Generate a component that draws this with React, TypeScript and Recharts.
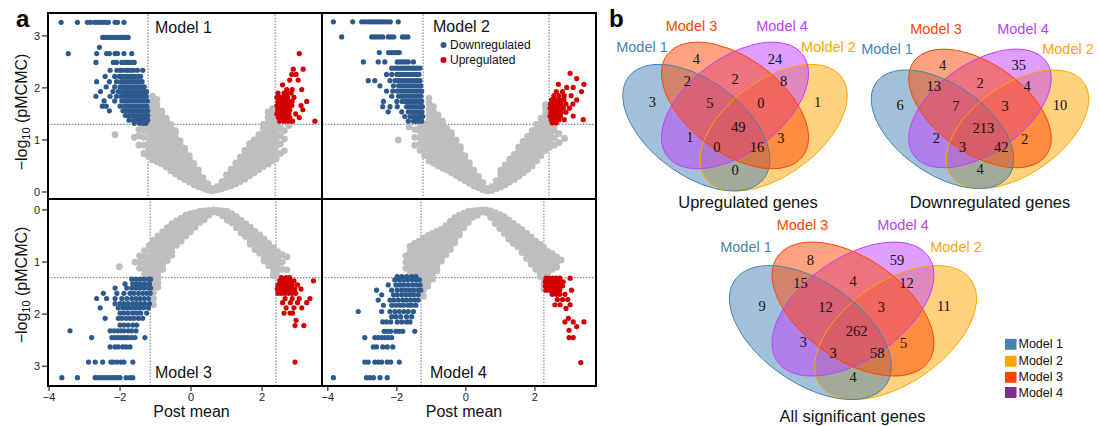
import React from 'react';
import { ScatterChart, Scatter, XAxis, YAxis, ReferenceLine } from 'recharts';

type Col = [number, number[]]; // [post mean, list of -log10 p]
type Row = [number, number[]]; // [-log10 p, list of post mean]

// ---------------- volcano data ----------------
const xTicks = [-4, -2, 0, 2];
const yTicks = [0, 1, 2, 3];
const pCut = 1.3;
const cut1 = [-1.21, 2.37];
const cut2 = [-1.24, 2.41];
const cut3 = [-1.15, 2.39];
const cut4 = [-1.3, 2.26];

const m1Gray: Col[] = [
  [0.6, [0.02, 0.07]], [0.47, [0.04, 0.1, 0.16]], [0.34, [0.07, 0.14, 0.21, 0.27]],
  [0.21, [0.1, 0.18, 0.26, 0.34, 0.42]], [0.08, [0.14, 0.22, 0.3, 0.38, 0.46, 0.55]],
  [-0.05, [0.19, 0.28, 0.37, 0.46, 0.55, 0.63, 0.7]], [-0.18, [0.24, 0.33, 0.42, 0.51, 0.6, 0.69, 0.77, 0.84]],
  [-0.31, [0.29, 0.38, 0.47, 0.56, 0.65, 0.74, 0.83, 0.91, 0.98]],
  [-0.44, [0.35, 0.45, 0.55, 0.65, 0.75, 0.85, 0.95, 1.05, 1.13, 1.18]],
  [-0.57, [0.41, 0.51, 0.61, 0.71, 0.81, 0.91, 1.01, 1.11, 1.21, 1.3]],
  [-0.7, [0.48, 0.58, 0.68, 0.78, 0.88, 0.98, 1.08, 1.18, 1.28, 1.36, 1.42]],
  [-0.83, [0.54, 0.64, 0.74, 0.84, 0.94, 1.04, 1.14, 1.24, 1.34, 1.44, 1.52, 1.56]],
  [-0.96, [0.58, 0.68, 0.78, 0.88, 0.98, 1.08, 1.18, 1.28, 1.38, 1.48, 1.58, 1.68, 1.78]],
  [-1.09, [0.62, 0.72, 0.82, 0.92, 1.02, 1.12, 1.22, 1.32, 1.42, 1.52, 1.62, 1.72, 1.84]],
  [-1.2, [0.68, 0.8, 0.92, 1.04, 1.16, 1.28]], [-1.33, [0.74, 0.9, 1.05, 1.18, 1.26]],
  [-1.47, [0.9, 1.08, 1.2]], [-1.6, [1.05]], [-2.14, [1.1]],
  [0.74, [0.04, 0.1]], [0.87, [0.06, 0.13, 0.2]], [1.0, [0.09, 0.17, 0.25, 0.33]],
  [1.13, [0.12, 0.2, 0.28, 0.36, 0.44]], [1.26, [0.16, 0.24, 0.32, 0.4, 0.48, 0.56]],
  [1.39, [0.2, 0.28, 0.36, 0.44, 0.52, 0.6, 0.67]], [1.52, [0.25, 0.33, 0.41, 0.49, 0.57, 0.65, 0.73, 0.8]],
  [1.65, [0.31, 0.39, 0.47, 0.55, 0.63, 0.71, 0.79, 0.87, 0.93]],
  [1.78, [0.37, 0.45, 0.53, 0.61, 0.69, 0.77, 0.85, 0.93, 1.0]],
  [1.91, [0.43, 0.52, 0.61, 0.7, 0.79, 0.88, 0.97, 1.05, 1.1]],
  [2.04, [0.49, 0.58, 0.67, 0.76, 0.85, 0.94, 1.03, 1.12, 1.22, 1.3]],
  [2.17, [0.54, 0.64, 0.74, 0.84, 0.94, 1.04, 1.14, 1.24, 1.34, 1.44, 1.54]],
  [2.3, [0.6, 0.7, 0.8, 0.9, 1.0, 1.1, 1.2, 1.3, 1.4, 1.5, 1.6]],
  [2.4, [0.64, 0.76, 0.88, 1.0, 1.12, 1.24, 1.32]], [2.52, [0.74, 0.92, 1.08, 1.22]],
  [2.63, [0.79, 1.02, 1.18]], [2.76, [1.28]],
];
const m1Down: Row[] = [
  [3.26, [-3.66, -3.2, -2.92, -2.83, -2.72, -2.64, -2.56, -2.47, -2.39, -2.33, -2.14, -2.07, -1.89]],
  [2.97, [-2.49, -2.42, -2.35, -2.28, -2.2, -2.12, -2.05, -1.98, -1.91, -1.84, -1.77]],
  [2.78, [-2.58]],
  [2.66, [-3.46, -2.66, -2.38, -2.3, -2.14, -2.07, -1.89, -1.67]],
  [2.49, [-2.68, -2.19, -2.1, -1.95, -1.88, -1.81, -1.74, -1.66, -1.6]],
  [2.34, [-2.28, -2.09, -2.0, -1.95, -1.85, -1.78, -1.7, -1.62, -1.51, -1.36]],
  [2.22, [-2.42, -2.15, -2.02, -1.95, -1.87, -1.8, -1.72, -1.65, -1.58, -1.5, -1.42]],
  [2.12, [-2.66, -2.3, -2.1, -1.98, -1.9, -1.82, -1.75, -1.68, -1.6, -1.52, -1.45, -1.38]],
  [2.02, [-2.39, -2.15, -2.0, -1.92, -1.85, -1.78, -1.7, -1.62, -1.55, -1.48, -1.4, -1.32]],
  [1.93, [-2.55, -2.2, -2.05, -1.95, -1.87, -1.8, -1.72, -1.64, -1.56, -1.48, -1.4, -1.32, -1.25]],
  [1.84, [-2.68, -2.28, -2.1, -1.98, -1.9, -1.82, -1.74, -1.66, -1.58, -1.5, -1.42, -1.34, -1.26]],
  [1.75, [-2.45, -2.15, -1.95, -1.86, -1.78, -1.7, -1.62, -1.54, -1.46, -1.38, -1.3, -1.23]],
  [1.65, [-2.5, -2.39, -2.0, -1.88, -1.8, -1.72, -1.64, -1.56, -1.48, -1.4, -1.32, -1.24]],
  [1.56, [-2.3, -1.92, -1.84, -1.76, -1.68, -1.6, -1.52, -1.44, -1.36, -1.28, -1.22]],
  [1.47, [-1.85, -1.76, -1.68, -1.6, -1.52, -1.44, -1.36, -1.28, -1.22]],
  [1.38, [-1.75, -1.62, -1.52, -1.44, -1.36, -1.28, -1.22]],
  [1.32, [-1.6, -1.45, -1.35, -1.27]],
];
const m1Up: Row[] = [
  [2.66, [3.05]], [2.36, [2.88, 3.16]], [2.26, [2.84, 2.96]], [2.15, [2.78, 3.02]], [2.06, [2.58]],
  [1.97, [2.7, 2.85, 3.12]], [1.9, [2.45, 2.62, 2.72, 2.82]], [1.82, [2.42, 2.52, 2.62, 2.72, 2.9]],
  [1.74, [2.45, 2.55, 2.65, 2.75, 2.85, 3.26]], [1.66, [2.42, 2.5, 2.58, 2.66, 2.74, 2.84, 3.1]],
  [1.58, [2.44, 2.52, 2.6, 2.68, 2.78, 3.15]], [1.5, [2.42, 2.5, 2.58, 2.66, 2.76, 2.95]],
  [1.43, [2.46, 2.56, 2.66, 2.78, 3.05]], [1.36, [2.5, 2.62, 2.74, 2.86, 3.49]],
];

const m2Gray: Col[] = [
  [0.62, [0.02, 0.07]], [0.49, [0.04, 0.11, 0.18]], [0.36, [0.08, 0.16, 0.24, 0.3]],
  [0.23, [0.12, 0.2, 0.28, 0.36, 0.42]], [0.1, [0.17, 0.25, 0.33, 0.41, 0.49, 0.56]],
  [-0.03, [0.22, 0.3, 0.38, 0.46, 0.54, 0.62, 0.7]], [-0.16, [0.27, 0.35, 0.43, 0.51, 0.59, 0.67, 0.75, 0.83, 0.87]],
  [-0.29, [0.32, 0.41, 0.5, 0.59, 0.68, 0.77, 0.86, 0.95, 1.0]],
  [-0.42, [0.37, 0.46, 0.55, 0.64, 0.73, 0.82, 0.91, 1.0, 1.09, 1.14]],
  [-0.55, [0.42, 0.51, 0.6, 0.69, 0.78, 0.87, 0.96, 1.05, 1.14, 1.22]],
  [-0.68, [0.46, 0.56, 0.66, 0.76, 0.86, 0.96, 1.06, 1.16, 1.26, 1.36]],
  [-0.81, [0.5, 0.6, 0.7, 0.8, 0.9, 1.0, 1.1, 1.2, 1.3, 1.4, 1.48]],
  [-0.94, [0.55, 0.65, 0.75, 0.85, 0.95, 1.05, 1.15, 1.25, 1.35, 1.45, 1.55, 1.64]],
  [-1.07, [0.6, 0.71, 0.82, 0.93, 1.04, 1.15, 1.26, 1.37, 1.48, 1.59, 1.7, 1.8]],
  [-1.2, [0.7, 0.82, 0.94, 1.06, 1.18, 1.3]], [-1.33, [0.8, 0.92, 1.04, 1.16, 1.26]],
  [-1.48, [0.9, 1.05, 1.2]], [-1.65, [1.25]], [-1.96, [1.0]],
  [0.75, [0.03, 0.1]], [0.88, [0.06, 0.14, 0.22]], [1.01, [0.1, 0.18, 0.26, 0.34, 0.42]],
  [1.14, [0.14, 0.22, 0.3, 0.38, 0.46, 0.52]], [1.27, [0.19, 0.27, 0.35, 0.43, 0.51, 0.59, 0.63]],
  [1.4, [0.24, 0.32, 0.4, 0.48, 0.56, 0.64, 0.72]], [1.53, [0.3, 0.38, 0.46, 0.54, 0.62, 0.7, 0.78, 0.86]],
  [1.66, [0.37, 0.45, 0.53, 0.61, 0.69, 0.77, 0.85, 0.93, 0.97]],
  [1.79, [0.43, 0.51, 0.59, 0.67, 0.75, 0.83, 0.91, 0.99, 1.07]],
  [1.92, [0.5, 0.59, 0.68, 0.77, 0.86, 0.95, 1.04, 1.13, 1.18]],
  [2.05, [0.6, 0.69, 0.78, 0.87, 0.96, 1.05, 1.14, 1.23, 1.3]],
  [2.18, [0.7, 0.79, 0.88, 0.97, 1.06, 1.15, 1.24, 1.33, 1.42]],
  [2.31, [0.8, 0.89, 0.98, 1.07, 1.16, 1.25, 1.34, 1.43, 1.52, 1.62, 1.68]],
  [2.43, [0.86, 0.98, 1.1, 1.22, 1.32]], [2.56, [0.9, 1.04, 1.18, 1.28]], [2.7, [0.95, 1.12]], [2.86, [1.03]],
];
const m2Down: Row[] = [
  [3.27, [-3.84, -3.28, -3.02, -2.93, -2.83, -2.75, -2.67, -2.59, -2.51, -2.43, -2.35, -2.27, -2.19, -1.96]],
  [2.98, [-3.6, -2.73, -2.65, -2.57, -2.49, -2.41, -2.25, -2.17, -2.09, -1.84, -1.76, -1.68]],
  [2.68, [-2.51, -2.24, -2.16, -2.08, -2.0, -1.93]],
  [2.5, [-2.97, -2.54, -2.35, -1.99, -1.91, -1.83, -1.75, -1.67, -1.52]],
  [2.38, [-2.15, -2.06, -1.98, -1.9, -1.82, -1.74, -1.66, -1.58, -1.5, -1.42, -1.33]],
  [2.26, [-2.3, -2.15, -2.0, -1.92, -1.84, -1.76, -1.68, -1.6, -1.52, -1.44, -1.36]],
  [2.14, [-2.83, -2.64, -2.2, -2.05, -1.97, -1.89, -1.81, -1.73, -1.65, -1.57, -1.49, -1.41, -1.33]],
  [2.04, [-2.49, -2.1, -1.95, -1.87, -1.79, -1.71, -1.63, -1.55, -1.47, -1.39, -1.31]],
  [1.94, [-2.3, -2.12, -1.99, -1.9, -1.82, -1.74, -1.66, -1.58, -1.5, -1.42, -1.34, -1.28]],
  [1.84, [-2.15, -1.95, -1.86, -1.78, -1.7, -1.62, -1.54, -1.46, -1.38, -1.3]],
  [1.74, [-2.39, -2.0, -1.85, -1.76, -1.68, -1.6, -1.52, -1.44, -1.36, -1.28]],
  [1.64, [-2.41, -2.2, -1.99, -1.72, -1.64, -1.56, -1.48, -1.4, -1.32, -1.26]],
  [1.54, [-2.25, -1.86, -1.67, -1.58, -1.5, -1.42, -1.34, -1.27]],
  [1.45, [-1.77, -1.62, -1.54, -1.46, -1.38, -1.3, -1.25]],
  [1.36, [-1.67, -1.52, -1.44, -1.36, -1.28]],
];
const m2Up: Row[] = [
  [2.28, [3.02]], [2.18, [3.21]], [2.07, [2.68, 3.42]], [2.01, [2.92, 3.11]], [1.93, [2.62, 2.8, 3.35]],
  [1.85, [2.55, 2.7, 2.85, 3.05]], [1.77, [2.48, 2.6, 2.72, 2.84, 3.21]],
  [1.69, [2.45, 2.56, 2.66, 2.76, 2.9, 3.1]], [1.61, [2.44, 2.52, 2.62, 2.72, 2.82, 3.0]],
  [1.53, [2.46, 2.56, 2.66, 2.76, 2.9]], [1.46, [2.44, 2.54, 2.64, 2.74, 3.11]],
  [1.39, [2.47, 2.58, 2.7, 2.85, 3.4]], [1.33, [2.5, 2.62]],
];

const m3Gray: Col[] = [
  [0.63, [0.0, 0.04]], [0.5, [0.01, 0.06, 0.1]], [0.37, [0.02, 0.08, 0.14, 0.19]],
  [0.24, [0.03, 0.1, 0.17, 0.24]], [0.11, [0.05, 0.12, 0.19, 0.26, 0.33]],
  [-0.02, [0.07, 0.14, 0.21, 0.28, 0.35, 0.42]], [-0.15, [0.1, 0.18, 0.26, 0.34, 0.42, 0.5]],
  [-0.28, [0.16, 0.24, 0.32, 0.4, 0.48, 0.56, 0.6]], [-0.41, [0.21, 0.29, 0.37, 0.45, 0.53, 0.61, 0.68]],
  [-0.54, [0.27, 0.36, 0.45, 0.54, 0.63, 0.72, 0.81, 0.87]],
  [-0.67, [0.34, 0.43, 0.52, 0.61, 0.7, 0.79, 0.88, 0.97]],
  [-0.8, [0.42, 0.51, 0.6, 0.69, 0.78, 0.87, 0.96, 1.05, 1.14]],
  [-0.93, [0.5, 0.6, 0.7, 0.8, 0.9, 1.0, 1.1, 1.2, 1.3, 1.4, 1.48]],
  [-1.06, [0.58, 0.68, 0.78, 0.88, 0.98, 1.08, 1.18, 1.28, 1.38, 1.48, 1.58, 1.7, 1.82]],
  [-1.18, [0.68, 0.8, 0.92, 1.04, 1.16, 1.26]], [-1.31, [0.78, 0.9, 1.02, 1.14, 1.24]],
  [-1.45, [0.88, 1.0, 1.12]], [-1.58, [1.0]], [-2.02, [1.09]],
  [0.76, [0.01, 0.05]], [0.89, [0.02, 0.07, 0.11]], [1.02, [0.03, 0.09, 0.15, 0.2]],
  [1.15, [0.07, 0.13, 0.19, 0.25]], [1.28, [0.13, 0.2, 0.27, 0.34]], [1.41, [0.2, 0.28, 0.36, 0.44]],
  [1.54, [0.27, 0.35, 0.43, 0.51]], [1.67, [0.33, 0.42, 0.51, 0.6, 0.66]],
  [1.8, [0.41, 0.5, 0.59, 0.68, 0.76]], [1.93, [0.48, 0.57, 0.66, 0.75, 0.83]],
  [2.06, [0.56, 0.65, 0.74, 0.83, 0.92, 0.98]], [2.19, [0.64, 0.73, 0.82, 0.91, 1.0, 1.07]],
  [2.32, [0.73, 0.82, 0.91, 1.0, 1.09, 1.18, 1.26]], [2.44, [0.8, 0.92, 1.04, 1.16, 1.28]],
  [2.57, [0.86, 1.0, 1.14]], [2.7, [0.9, 1.15]],
];
const m3Down: Row[] = [
  [3.22, [-3.64, -3.2, -2.7, -2.62, -2.54, -2.46, -2.38, -2.3, -2.22, -2.14, -2.06, -2.0, -1.83, -1.72, -1.64]],
  [2.92, [-2.89, -2.7, -2.49, -2.26, -2.19, -2.09, -1.98, -1.89, -1.64]],
  [2.63, [-2.28, -2.14, -2.05, -1.92, -1.83, -1.72]],
  [2.45, [-2.8, -2.23, -2.14, -2.05, -1.96, -1.87, -1.78, -1.68, -1.58, -1.3]],
  [2.32, [-3.41, -2.28, -2.17, -2.07, -1.98, -1.89, -1.77, -1.67, -1.55]],
  [2.21, [-2.0, -1.89, -1.77, -1.64, -1.53]],
  [2.08, [-2.42, -2.05, -1.95, -1.83, -1.72, -1.61, -1.48, -1.36]],
  [1.98, [-2.0, -1.89, -1.77, -1.64, -1.53, -1.42, -1.25]],
  [1.88, [-2.56, -2.05, -1.92, -1.81, -1.7, -1.58, -1.46, -1.34, -1.2]],
  [1.8, [-2.14, -2.0, -1.89, -1.77, -1.64, -1.53, -1.42, -1.3, -1.17]],
  [1.7, [-2.66, -2.38, -2.14, -1.95, -1.81, -1.67, -1.55, -1.44, -1.32, -1.2]],
  [1.6, [-2.47, -2.09, -1.89, -1.72, -1.61, -1.48, -1.36, -1.25, -1.15]],
  [1.5, [-2.14, -1.81, -1.67, -1.55, -1.44, -1.32, -1.2, -1.14]],
  [1.42, [-1.86, -1.64, -1.53, -1.42, -1.3, -1.17]],
  [1.33, [-1.67, -1.55, -1.44, -1.32, -1.2, -1.14]],
];
const m3Up: Row[] = [
  [2.92, [2.93]], [2.22, [2.93, 3.18]], [2.12, [2.96]], [1.98, [2.62, 2.79, 2.86]],
  [1.88, [2.68, 2.9, 3.12]], [1.78, [2.58, 2.8, 3.0, 3.26]], [1.7, [2.65, 2.85, 3.05, 3.35]],
  [1.6, [2.45, 2.55, 2.65, 2.75, 2.85, 2.95]], [1.52, [2.43, 2.52, 2.62, 2.72, 2.82, 2.92, 3.1]],
  [1.44, [2.45, 2.55, 2.65, 2.75, 2.85, 3.0]], [1.36, [2.5, 2.6, 2.7, 2.8, 2.9, 3.45]],
  [1.3, [2.55, 2.68, 2.78]],
];

const m4Gray: Col[] = [
  [0.46, [0.0, 0.04]], [0.33, [0.01, 0.06, 0.1]], [0.2, [0.02, 0.08, 0.14]],
  [0.07, [0.03, 0.1, 0.17, 0.24]], [-0.06, [0.06, 0.13, 0.2, 0.27, 0.34]],
  [-0.19, [0.1, 0.18, 0.26, 0.34, 0.42, 0.48]], [-0.32, [0.15, 0.23, 0.31, 0.39, 0.47, 0.55, 0.63]],
  [-0.45, [0.22, 0.3, 0.38, 0.46, 0.54, 0.62, 0.7, 0.76]],
  [-0.58, [0.3, 0.38, 0.46, 0.54, 0.62, 0.7, 0.78, 0.86]],
  [-0.71, [0.37, 0.46, 0.55, 0.64, 0.73, 0.82, 0.91, 0.98]],
  [-0.84, [0.41, 0.5, 0.59, 0.68, 0.77, 0.86, 0.95, 1.04, 1.13, 1.17]],
  [-0.97, [0.45, 0.54, 0.63, 0.72, 0.81, 0.9, 0.99, 1.08, 1.17, 1.26, 1.33]],
  [-1.1, [0.49, 0.59, 0.69, 0.79, 0.89, 0.99, 1.09, 1.19, 1.29, 1.39, 1.46]],
  [-1.23, [0.54, 0.64, 0.74, 0.84, 0.94, 1.04, 1.14, 1.24, 1.34, 1.44, 1.54, 1.66]],
  [-1.36, [0.6, 0.7, 0.8, 0.9, 1.0, 1.1, 1.2, 1.28]], [-1.49, [0.64, 0.74, 0.84, 0.94, 1.04, 1.14, 1.24]],
  [-1.62, [0.7, 0.8, 0.9, 1.0, 1.1, 1.22]], [-1.74, [0.88, 1.0, 1.12]],
  [0.59, [0.0, 0.05]], [0.72, [0.02, 0.08, 0.14]], [0.85, [0.05, 0.12, 0.19, 0.26]],
  [0.98, [0.09, 0.16, 0.23, 0.3, 0.36]], [1.11, [0.13, 0.21, 0.29, 0.37, 0.45]],
  [1.24, [0.19, 0.27, 0.35, 0.43, 0.51, 0.56]], [1.37, [0.26, 0.34, 0.42, 0.5, 0.58, 0.64]],
  [1.5, [0.32, 0.4, 0.48, 0.56, 0.64, 0.7]], [1.63, [0.38, 0.46, 0.54, 0.62, 0.7, 0.78, 0.82]],
  [1.76, [0.45, 0.53, 0.61, 0.69, 0.77, 0.85, 0.93]], [1.89, [0.52, 0.6, 0.68, 0.76, 0.84, 0.92, 1.0, 1.04]],
  [2.02, [0.6, 0.68, 0.76, 0.84, 0.92, 1.0, 1.08, 1.14]],
  [2.15, [0.66, 0.75, 0.84, 0.93, 1.02, 1.11, 1.2, 1.28]],
  [2.26, [0.72, 0.82, 0.92, 1.02, 1.12, 1.22, 1.32, 1.42, 1.52]],
  [2.38, [0.8, 0.9, 1.0, 1.1, 1.2]], [2.5, [0.84, 0.94, 1.04, 1.14]], [2.63, [0.9, 1.0, 1.1]], [2.76, [0.96]],
];
const m4Down: Row[] = [
  [3.22, [-3.84, -2.88, -2.78, -2.68, -2.49, -2.28]],
  [2.92, [-2.93, -2.83, -2.64, -2.54, -2.44, -2.28, -2.18, -1.93]],
  [2.63, [-2.68, -2.59, -2.41, -2.28, -2.12]],
  [2.45, [-2.93, -2.64, -2.54, -2.44, -2.35, -2.25, -2.15]],
  [2.33, [-2.37, -2.28, -2.18, -2.03, -1.93, -1.83, -1.48]],
  [2.15, [-2.41, -2.3, -2.18, -1.99, -1.86, -1.72, -1.62]],
  [2.05, [-2.15, -2.03, -1.89, -1.72, -1.57]],
  [1.95, [-3.12, -2.44, -2.2, -2.06, -1.93, -1.8, -1.67, -1.52]],
  [1.83, [-2.39, -2.15, -2.03, -1.91, -1.8, -1.67, -1.57, -1.45]],
  [1.73, [-2.54, -2.2, -2.09, -1.96, -1.83, -1.72, -1.6, -1.48, -1.38]],
  [1.63, [-2.44, -2.1, -1.99, -1.86, -1.74, -1.62, -1.51, -1.38]],
  [1.54, [-2.59, -2.15, -1.99, -1.86, -1.74, -1.62, -1.51, -1.38, -1.31]],
  [1.44, [-2.25, -2.03, -1.91, -1.8, -1.67, -1.54, -1.43, -1.33]],
  [1.34, [-2.06, -1.93, -1.81, -1.7, -1.57, -1.45, -1.35]],
  [1.28, [-1.99, -1.86, -1.72, -1.57, -1.45]],
];
const m4Up: Row[] = [
  [2.93, [3.33]], [2.45, [2.99, 3.11]], [2.31, [2.99]], [2.24, [3.21]], [2.15, [2.87, 3.11, 3.42]],
  [2.08, [2.97]], [1.89, [2.9]], [1.82, [2.58, 2.73, 3.02]], [1.72, [2.65, 2.8, 2.95]],
  [1.62, [2.5, 2.62, 2.72, 2.87]], [1.54, [2.32, 2.42, 2.52, 2.62, 2.72, 3.06]],
  [1.46, [2.3, 2.4, 2.5, 2.6, 2.7, 2.8]], [1.38, [2.3, 2.4, 2.5, 2.6, 2.7, 2.82]],
  [1.31, [2.32, 2.42, 2.52, 2.62, 2.72, 3.02]],
];

// ---------------- venn data ----------------
// region order: 1, 3, 4, 2, 1∩3, 3∩4, 4∩2, 1∩3∩4, 3∩4∩2, 1∩4, all, 3∩2, 1∩4∩2, 1∩3∩2, 1∩2
const upCounts = [3, 4, 24, 1, 2, 2, 8, 5, 0, 1, 49, 3, 0, 16, 0];
const downCounts = [6, 4, 35, 10, 13, 2, 4, 7, 3, 2, 213, 2, 3, 42, 4];
const allCounts = [9, 8, 59, 11, 15, 4, 12, 12, 3, 3, 262, 5, 3, 58, 4];
const modelNames = ['Model 1', 'Model 2', 'Model 3', 'Model 4'];

// ---------------- layout / style ----------------
const GRAY = '#BEBEBE';
const BLUE = '#2D5A8E';
const RED = '#D20000';
const FONT = "'Liberation Sans', Arial, Helvetica, sans-serif";
const SERIF = "'Liberation Serif', 'Times New Roman', serif";
const MODEL_COLORS = ['#4682B4', '#FFA500', '#FF4500', '#BF3EFF'];
const LEGEND_COLORS = ['#4682B4', '#FFA500', '#FF4500', '#7E2F8E'];

const REGION_POS: [number, number][] = [
  [0.18, 0.585], [0.35, 0.78], [0.655, 0.78], [0.82, 0.585], [0.315, 0.68], [0.5, 0.69], [0.688, 0.68],
  [0.403, 0.58], [0.6, 0.58], [0.325, 0.43], [0.513, 0.475], [0.678, 0.425], [0.43, 0.385], [0.585, 0.385], [0.5, 0.28],
];
// ellipse layout (VennDiagram quad layout), in drawing order
const ELLIPSES = [
  { m: 1, u: 0.65, v: 0.47, rot: 45 },
  { m: 0, u: 0.35, v: 0.47, rot: 135 },
  { m: 3, u: 0.5, v: 0.57, rot: 45 },
  { m: 2, u: 0.5, v: 0.57, rot: 135 },
];
const EA = 0.35;
const EB = 0.2;

const colPts = (cols: Col[]) => cols.flatMap(([x, ys]) => ys.map((y) => ({ x, y })));
const rowPts = (rows: Row[]) => rows.flatMap(([y, xs]) => xs.map((x) => ({ x, y })));
const fmt = (v: number) => (v < 0 ? `\u2212${-v}` : `${v}`);
const dot = (fill: string, r: number) => (s: any) =>
  s.cx == null ? <g /> : <circle cx={s.cx} cy={s.cy} r={r} fill={fill} />;

type VP = {
  left: number; top: number; width: number; height: number;
  yAxisW: number; xAxisH: number;
  xDomain: [number, number]; yDomain: [number, number]; reversed: boolean;
  gray: Col[]; down: Row[]; up: Row[]; cuts: number[];
};

function Volcano(p: VP) {
  return (
    <div style={{ position: 'absolute', left: p.left, top: p.top }}>
      <ScatterChart width={p.width} height={p.height} margin={{ top: 0, right: 0, bottom: 0, left: 0 }}>
        <XAxis type="number" dataKey="x" domain={p.xDomain} allowDataOverflow ticks={xTicks} interval={0}
          hide={p.xAxisH === 0} height={p.xAxisH || 1} axisLine={false} tickSize={5}
          tickLine={{ stroke: '#000' }} tick={{ fontSize: 11, fill: '#222' }} tickFormatter={fmt} />
        <YAxis type="number" dataKey="y" domain={p.yDomain} allowDataOverflow reversed={p.reversed} ticks={yTicks}
          interval={0} hide={p.yAxisW === 0} width={p.yAxisW || 1} axisLine={false} tickSize={6}
          tickLine={{ stroke: '#000' }} tick={{ fontSize: 11, fill: '#222' }} />
        <Scatter data={colPts(p.gray)} shape={dot(GRAY, 3.4)} isAnimationActive={false} />
        <Scatter data={rowPts(p.down)} shape={dot(BLUE, 2.6)} isAnimationActive={false} />
        <Scatter data={rowPts(p.up)} shape={dot(RED, 2.6)} isAnimationActive={false} />
        {p.cuts.map((c) => (
          <ReferenceLine key={c} x={c} stroke="#8a8a8a" strokeWidth={1.2} strokeDasharray="1.5 1.5" />
        ))}
        <ReferenceLine y={pCut} stroke="#8a8a8a" strokeWidth={1.2} strokeDasharray="1.5 1.5" />
      </ScatterChart>
    </div>
  );
}

type VennP = { left: number; top: number; sx: number; sy: number; counts: number[] };

function Venn(p: VennP) {
  const ell = ELLIPSES.map((e) => ({ x: e.u, y: e.v, rot: e.rot, color: MODEL_COLORS[e.m] }));
  const cnt = p.counts.map((n, i) => ({ x: REGION_POS[i][0], y: REGION_POS[i][1], n }));
  const ellShape = (mode: 'fill' | 'line') => (s: any) => (
    <ellipse cx={0} cy={0} rx={EA} ry={EB}
      transform={`translate(${s.cx},${s.cy}) scale(${p.sx},${-p.sy}) rotate(${s.payload.rot})`}
      fill={mode === 'fill' ? s.payload.color : 'none'} fillOpacity={0.5}
      stroke={mode === 'line' ? s.payload.color : 'none'} strokeWidth={1}
      vectorEffect="non-scaling-stroke" />
  );
  const txt = (s: any) => (
    <text x={s.cx} y={s.cy} textAnchor="middle" dominantBaseline="central" fontFamily={SERIF}
      fontSize={14.5} fill="#111">{s.payload.n}</text>
  );
  return (
    <div style={{ position: 'absolute', left: p.left, top: p.top }}>
      <ScatterChart width={p.sx} height={p.sy} margin={{ top: 0, right: 0, bottom: 0, left: 0 }}>
        <XAxis type="number" dataKey="x" domain={[0, 1]} allowDataOverflow hide />
        <YAxis type="number" dataKey="y" domain={[0, 1]} allowDataOverflow hide />
        <Scatter data={ell} shape={ellShape('fill')} isAnimationActive={false} />
        <Scatter data={ell} shape={ellShape('line')} isAnimationActive={false} />
        <Scatter data={cnt} shape={txt} isAnimationActive={false} />
      </ScatterChart>
    </div>
  );
}

const YLabel = ({ cx, cy }: { cx: number; cy: number }) => (
  <text transform={`translate(${cx},${cy}) rotate(-90)`} textAnchor="middle" fontSize={16} fill="#111">
    {'\u2212log'}<tspan fontSize={11} dy={3}>10</tspan><tspan dy={-3}> (pMCMC)</tspan>
  </text>
);

export default function App() {
  const vennLabels: [string, number, number, string][] = [
    ['Model 1', 642, 47, MODEL_COLORS[0]], ['Model 3', 691.5, 26, MODEL_COLORS[2]],
    ['Model 4', 782, 26, MODEL_COLORS[3]], ['Moldel 2', 828.5, 47, MODEL_COLORS[1]],
    ['Model 1', 887, 48.5, MODEL_COLORS[0]], ['Model 3', 936, 28.5, MODEL_COLORS[2]],
    ['Model 4', 1023, 28.5, MODEL_COLORS[3]], ['Model 2', 1068, 48.5, MODEL_COLORS[1]],
    ['Model 1', 746, 246.5, MODEL_COLORS[0]], ['Model 3', 802.5, 224.5, MODEL_COLORS[2]],
    ['Model 4', 903, 224.5, MODEL_COLORS[3]], ['Model 2', 956, 246.5, MODEL_COLORS[1]],
  ];
  return (
    <div style={{ position: 'absolute', left: 0, top: 0, width: 1099, height: 426, background: '#fff', fontFamily: FONT }}>
      <Volcano left={0} top={13} width={322} height={186} yAxisW={48} xAxisH={0}
        xDomain={[-4.03, 3.69]} yDomain={[-0.135, 3.44]} reversed={false}
        gray={m1Gray} down={m1Down} up={m1Up} cuts={cut1} />
      <Volcano left={322} top={13} width={274} height={186} yAxisW={0} xAxisH={0}
        xDomain={[-4.17, 3.77]} yDomain={[-0.135, 3.44]} reversed={false}
        gray={m2Gray} down={m2Down} up={m2Up} cuts={cut2} />
      <Volcano left={0} top={199} width={322} height={217} yAxisW={48} xAxisH={30}
        xDomain={[-4.03, 3.69]} yDomain={[-0.21, 3.38]} reversed
        gray={m3Gray} down={m3Down} up={m3Up} cuts={cut3} />
      <Volcano left={322} top={199} width={274} height={217} yAxisW={0} xAxisH={30}
        xDomain={[-4.17, 3.77]} yDomain={[-0.21, 3.38]} reversed
        gray={m4Gray} down={m4Down} up={m4Up} cuts={cut4} />

      <Venn left={606} top={10} sx={258} sy={222} counts={upCounts} />
      <Venn left={855} top={19} sx={250} sy={208} counts={downCounts} />
      <Venn left={711} top={208} sx={284} sy={235} counts={allCounts} />

      <svg width={1099} height={426} style={{ position: 'absolute', left: 0, top: 0, pointerEvents: 'none' }}
        fontFamily={FONT}>
        <g fill="none" stroke="#000" strokeWidth={2}>
          <rect x={48} y={13} width={274} height={186} />
          <rect x={322} y={13} width={274} height={186} />
          <rect x={48} y={199} width={274} height={187} />
          <rect x={322} y={199} width={274} height={187} />
        </g>
        <text x={16} y={27} fontSize={24} fontWeight="bold">a</text>
        <text x={609} y={27} fontSize={24} fontWeight="bold">b</text>
        <text x={155} y={33} fontSize={16} fill="#111">Model 1</text>
        <text x={433} y={31.5} fontSize={16} fill="#111">Model 2</text>
        <text x={155} y={378} fontSize={16} fill="#111">Model 3</text>
        <text x={430} y={378} fontSize={16} fill="#111">Model 4</text>
        <circle cx={443.5} cy={45} r={3} fill={BLUE} />
        <text x={450} y={49.3} fontSize={12} fill="#111">Downregulated</text>
        <circle cx={443.5} cy={60} r={3} fill={RED} />
        <text x={450} y={64.3} fontSize={12} fill="#111">Upregulated</text>
        <text x={191.5} y={417} fontSize={16} textAnchor="middle" fill="#111">Post mean</text>
        <text x={464} y={417} fontSize={16} textAnchor="middle" fill="#111">Post mean</text>
        <YLabel cx={27} cy={112} />
        <YLabel cx={27} cy={285} />

        {vennLabels.map(([t, x, y, c], i) => (
          <text key={i} x={x} y={y} fontSize={14.5} textAnchor="middle" dominantBaseline="central" fill={c}>{t}</text>
        ))}
        <text x={748} y={202} fontSize={16.5} textAnchor="middle" dominantBaseline="central" fill="#111">Upregulated genes</text>
        <text x={990} y={202} fontSize={16.5} textAnchor="middle" dominantBaseline="central" fill="#111">Downregulated genes</text>
        <text x={852.5} y={416} fontSize={16.5} textAnchor="middle" dominantBaseline="central" fill="#111">All significant genes</text>

        {modelNames.map((m, i) => {
          const cy = [344.3, 361.3, 377.3, 392.5][i];
          return (
            <g key={m}>
              <rect x={1005} y={cy - 5.5} width={11.5} height={11} fill={LEGEND_COLORS[i]} />
              <text x={1018.5} y={cy} fontSize={12.5} dominantBaseline="central" fill="#111">{m}</text>
            </g>
          );
        })}
      </svg>
    </div>
  );
}
